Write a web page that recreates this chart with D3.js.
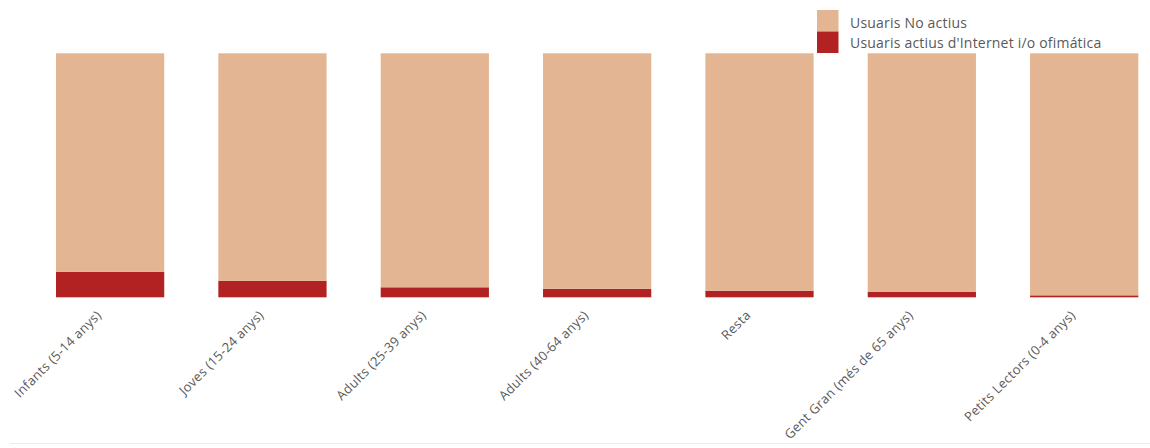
<!DOCTYPE html>
<html lang="ca">
<meta charset="utf-8">
<style>
body {
  margin: 0;
  background: #fff;
  font-family: 'Open Sans', sans-serif;
}
.label {
  font-size: 13px;
  letter-spacing: 0.3px;
  fill: #595959;
}
.legend-text {
  font-size: 14px;
  letter-spacing: 0.2px;
  fill: #595959;
}
</style>
<body>
<div id="chart"></div>
<script src="https://d3js.org/d3.v7.min.js"></script>
<script>

// categories and shares (% of users)
var categories = ["Infants (5-14 anys)", "Joves (15-24 anys)", "Adults (25-39 anys)",
                  "Adults (40-64 anys)", "Resta", "Gent Gran (més de 65 anys)", "Petits Lectors (0-4 anys)"];
var actius = [10.4, 6.8, 4.1, 3.5, 2.7, 2.2, 0.8];
var noActius = actius.map(function(v) { return 100 - v; });
var seriesNames = ["Usuaris No actius", "Usuaris actius d'Internet i/o ofimática"];
var seriesColors = ["#e3b592", "#b22222"];

var width = 1150,
    height = 448;

var svg = d3.select("#chart").append("svg")
    .attr("width", width)
    .attr("height", height);

var x = d3.scaleBand()
    .domain(categories)
    .range([56, 1138.3])
    .paddingInner(1 / 3)
    .paddingOuter(0);

var y = d3.scaleLinear()
    .domain([0, 100])
    .range([297.3, 53.3]);

var rows = categories.map(function(c, i) {
  return { cat: c, actius: actius[i], noActius: noActius[i] };
});

var stack = d3.stack().keys(["actius", "noActius"]);
var layers = stack(rows);

svg.append("g")
  .selectAll("g")
    .data(layers)
  .enter().append("g")
    .attr("fill", function(d) { return d.key == "actius" ? seriesColors[1] : seriesColors[0]; })
  .selectAll("rect")
    .data(function(d) { return d; })
  .enter().append("rect")
    .attr("x", function(d) { return x(d.data.cat); })
    .attr("width", x.bandwidth())
    .attr("y", function(d) { return y(d[1]); })
    .attr("height", function(d) { return y(d[0]) - y(d[1]); });

// rotated category labels
svg.append("g")
  .selectAll("text")
    .data(categories)
  .enter().append("text")
    .attr("class", "label")
    .attr("text-anchor", "end")
    .attr("transform", function(d) {
      return "translate(" + (x(d) + x.bandwidth() / 2 - 8) + ",316) rotate(-45)";
    })
    .text(function(d) { return d; });

// legend
var legend = svg.append("g")
    .attr("transform", "translate(817,10)");

legend.selectAll("rect")
    .data(seriesNames)
  .enter().append("rect")
    .attr("x", 0)
    .attr("y", function(d, i) { return i * 21.5; })
    .attr("width", 21.5)
    .attr("height", 21.5)
    .attr("fill", function(d, i) { return seriesColors[i]; });

legend.selectAll("text")
    .data(seriesNames)
  .enter().append("text")
    .attr("class", "legend-text")
    .attr("x", 33)
    .attr("y", function(d, i) { return 17.5 + i * 20; })
    .text(function(d) { return d; });

// faint frame line at the bottom
svg.append("line")
    .attr("x1", 10)
    .attr("x2", width)
    .attr("y1", 443.5)
    .attr("y2", 443.5)
    .attr("stroke", "#ececec");

</script>
</body>
</html>
